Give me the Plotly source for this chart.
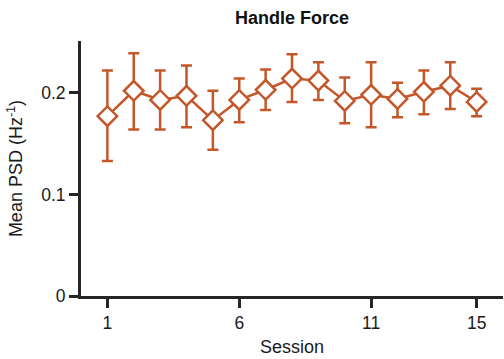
import plotly.graph_objects as go

sessions = list(range(1, 16))
mean_psd = [0.177, 0.202, 0.193, 0.197, 0.173, 0.193, 0.203, 0.214, 0.212, 0.192, 0.198, 0.194, 0.201, 0.207, 0.191]
upper = [0.222, 0.239, 0.222, 0.227, 0.202, 0.214, 0.223, 0.238, 0.230, 0.215, 0.230, 0.210, 0.222, 0.230, 0.204]
lower = [0.133, 0.164, 0.164, 0.166, 0.144, 0.171, 0.183, 0.191, 0.193, 0.170, 0.166, 0.176, 0.179, 0.184, 0.177]
x_ticks = [1, 6, 11, 15]
y_ticks = [0, 0.1, 0.2]
y_ticklabels = ["0", "0.1", "0.2"]

err_plus = [u - m for u, m in zip(upper, mean_psd)]
err_minus = [m - l for m, l in zip(mean_psd, lower)]

color = "#C4572A"
axis_color = "#262626"
font = "Liberation Sans, Arial, sans-serif"

fig = go.Figure()
# error bars underneath
fig.add_trace(go.Scatter(
    x=sessions, y=mean_psd, mode="markers",
    marker=dict(size=1, opacity=0),
    error_y=dict(type="data", symmetric=False, array=err_plus, arrayminus=err_minus,
                 color=color, thickness=2.5, width=5.5),
    showlegend=False, hoverinfo="skip",
))
# line and white-filled diamonds on top
fig.add_trace(go.Scatter(
    x=sessions, y=mean_psd, mode="lines+markers",
    line=dict(color=color, width=2.5),
    marker=dict(symbol="diamond", size=15, color="white", line=dict(color=color, width=2.5)),
    showlegend=False,
))

fig.update_layout(
    width=504, height=359,
    margin=dict(l=81, r=1, t=41, b=63),
    paper_bgcolor="white", plot_bgcolor="white",
    font=dict(family=font, size=17.5, color="#1a1a1a"),
    title=dict(text="<b>Handle Force</b>", x=(81 + 503) / 2 / 504, xanchor="center",
               y=1 - 18 / 359, yanchor="middle", yref="container",
               font=dict(size=18, color="#111111")),
    xaxis=dict(range=[0, 16], tickvals=x_ticks, ticktext=[str(t) for t in x_ticks],
               showgrid=False, zeroline=False, showline=True, linecolor=axis_color, linewidth=3,
               ticks="outside", ticklen=9, tickwidth=2.5, tickcolor=axis_color,
               title=dict(text="Session", font=dict(size=18), standoff=9)),
    yaxis=dict(range=[0, 0.251], tickvals=y_ticks, ticktext=y_ticklabels,
               showgrid=False, zeroline=False, showline=True, linecolor=axis_color, linewidth=3,
               ticks="outside", ticklen=9, tickwidth=2.5, tickcolor=axis_color,
               title=dict(text="Mean PSD (Hz<sup>-1</sup>)", font=dict(size=18), standoff=14)),
)

fig.write_html("out.html")
